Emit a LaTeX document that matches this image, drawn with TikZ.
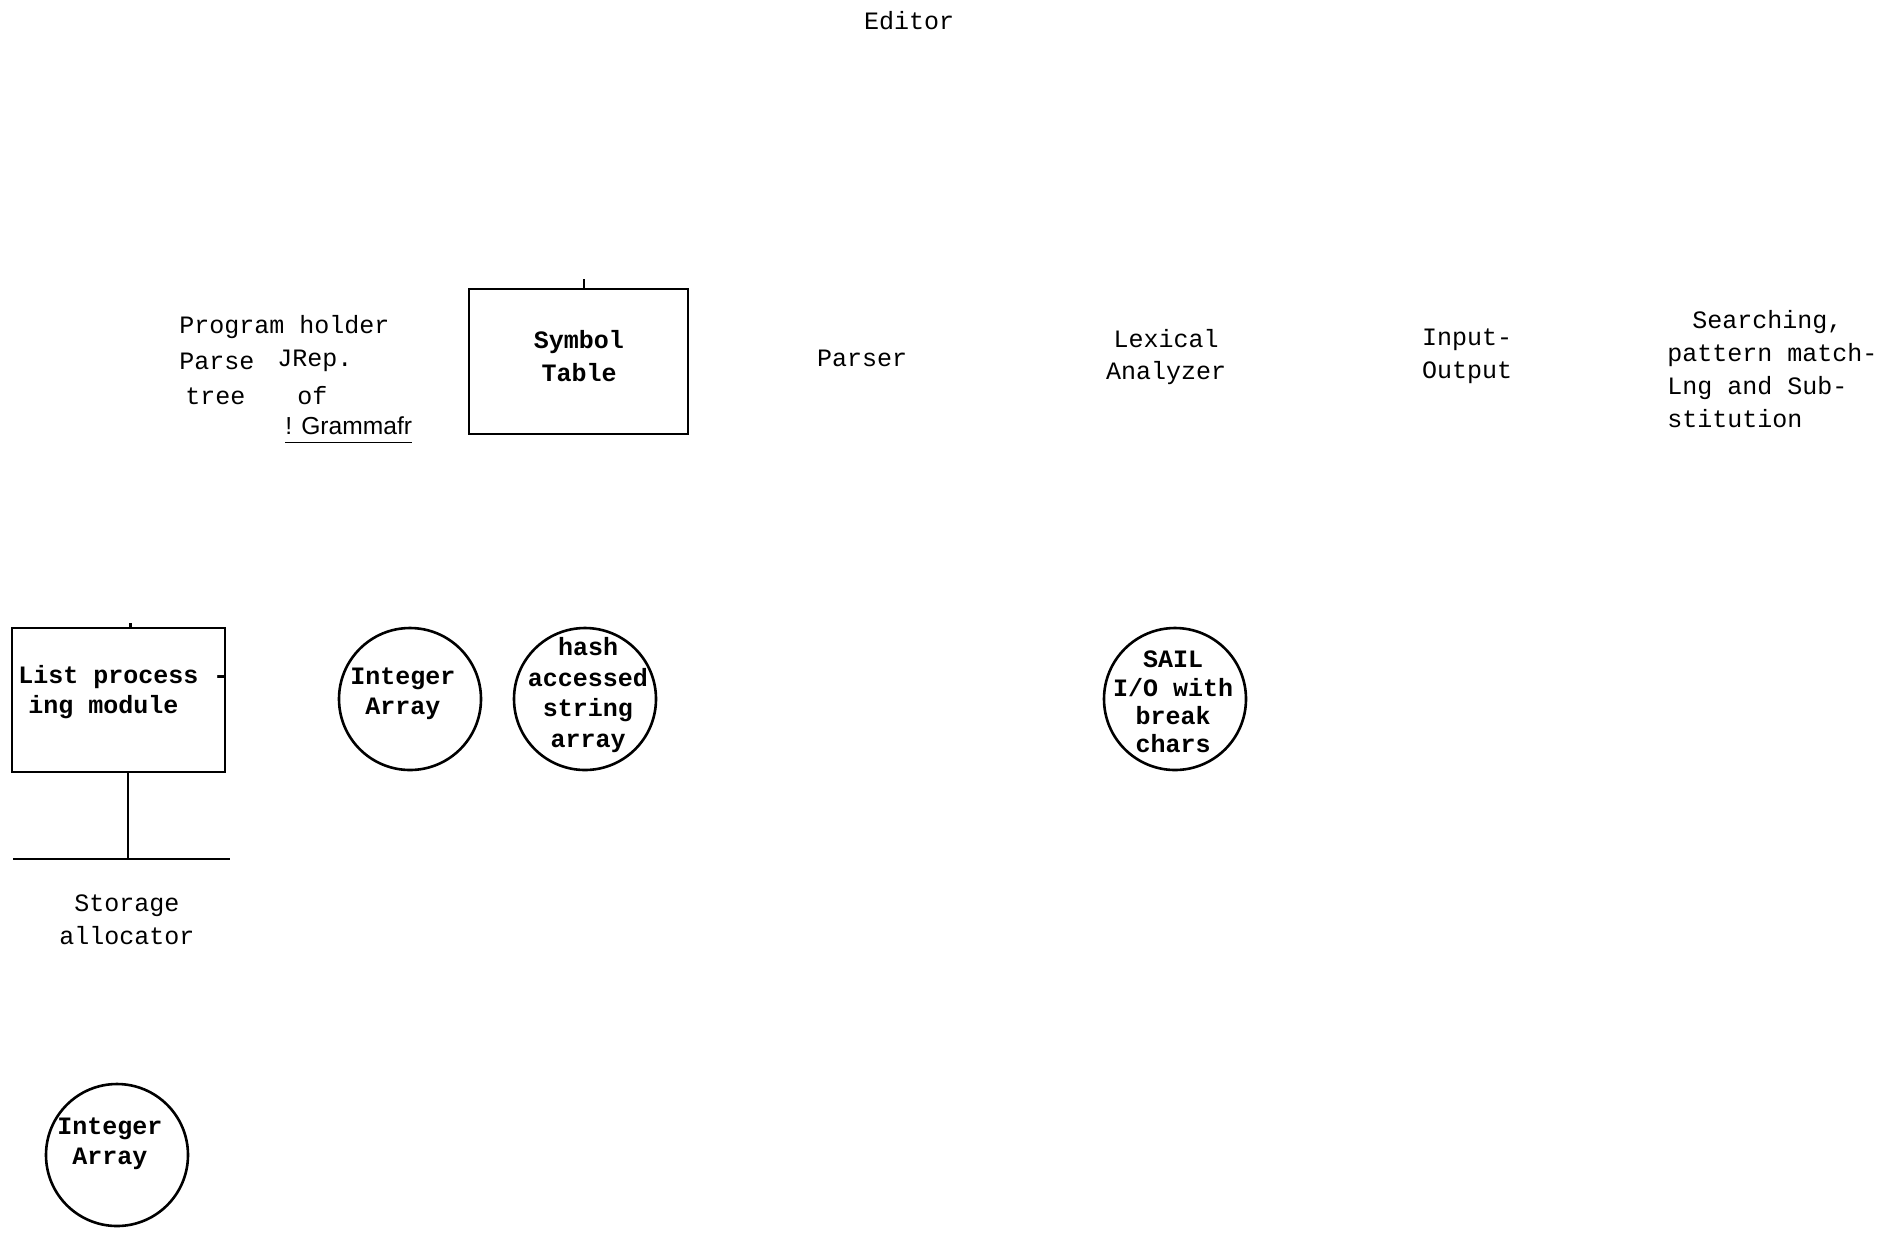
\documentclass[tikz,border=0pt]{standalone}
\usepackage{fontspec}
\setmonofont{Liberation Mono}
\setsansfont{Liberation Sans}
\tikzset{
  typed/.style = {font=\ttfamily\fontsize{12.5}{16.4}\selectfont, inner sep=0pt, align=center},
  typedbold/.style = {font=\ttfamily\bfseries\fontsize{12.5}{15}\selectfont, inner sep=0pt, align=center},
  modbox/.style = {rectangle, draw, line width=1.3pt, inner sep=0pt},
  arrcirc/.style = {circle, draw, line width=1.3pt, minimum size=71pt, inner sep=0pt},
  wire/.style = {line width=1.3pt}
}
\begin{document}
\begin{tikzpicture}[x=0.5pt, y=-0.5pt]
    \useasboundingbox (0,0) rectangle (1895,1233);
    % top row
    \node[typed] (editor) at (909,21) {Editor};
    \node[typed, anchor=west] (progholder) at (179,327) {Program holder};
    \node[typed, anchor=west] (parse) at (179,361) {Parse};
    \node[typed, anchor=west] (jrep) at (277,361) {JRep.};
    \node[typed, anchor=west] (tree) at (185,396) {tree};
    \node[typed, anchor=west] (of) at (297,396) {of};
    \node[inner sep=0pt, anchor=west, font=\sffamily\fontsize{12.3}{15}\selectfont] (gram) at (285,426) {! Grammafr};
    \draw[line width=0.9pt] ([yshift=-3.5pt]gram.south west) -- ([yshift=-3.5pt]gram.south east);
    \node[modbox, minimum width=109.5pt, minimum height=72.5pt] (symtab) at (578.5,361.5) {};
    \node[typedbold, font=\ttfamily\bfseries\fontsize{12.5}{16.5}\selectfont] (symtabtxt) at (579,356) {Symbol\\Table};
    \draw[wire] ([xshift=2.75pt]symtab.north) -- ++(0,-9);
    \node[typed] (parser) at (862,358) {Parser};
    \node[typed] (lexical) at (1166,357) {Lexical\\Analyzer};
    \node[typed] (inout) at (1467,356) {Input-\\Output};
    \node[typed, anchor=west, align=left] (searching) at (1667,369)
        {\hspace*{1em}Searching,\\pattern match-\\Lng and Sub-\\stitution};
    % middle row
    \node[modbox, minimum width=106.5pt, minimum height=72pt] (listbox) at (118.5,700) {};
    \node[typedbold, anchor=west, align=left] (listtxt) at (18,692)
        {List process -\\\hspace*{0.4em}ing module};
    \draw[wire] ([xshift=6pt]listbox.north) -- ++(0,-4);
    \coordinate (barL) at (13,859);
    \coordinate (barR) at (230,859);
    \coordinate (barmid) at (128,859);
    \draw[wire] (barL) -- (barR);
    \draw[wire] (barmid |- listbox.south) -- (barmid);
    \node[typed] (storage) at (127,920) {Storage\\allocator};
    \node[arrcirc] (intarr) at (410,699) {};
    \node[typedbold] (intarrtxt) at (403,694) {Integer\\Array};
    \node[arrcirc] (hash) at (585,699) {};
    \node[typedbold, font=\ttfamily\bfseries\fontsize{12.5}{15.2}\selectfont] (hashtxt) at (588,695)
        {hash\\accessed\\string\\array};
    \node[arrcirc] (sail) at (1175,699) {};
    \node[typedbold, font=\ttfamily\bfseries\fontsize{12.5}{14.2}\selectfont] (sailtxt) at (1173,702)
        {SAIL\\I/O with\\break\\chars};
    % bottom
    \node[arrcirc] (intarrb) at (117,1155) {};
    \node[typedbold] (intarrbtxt) at (110,1144) {Integer\\Array};
\end{tikzpicture}
\end{document}
